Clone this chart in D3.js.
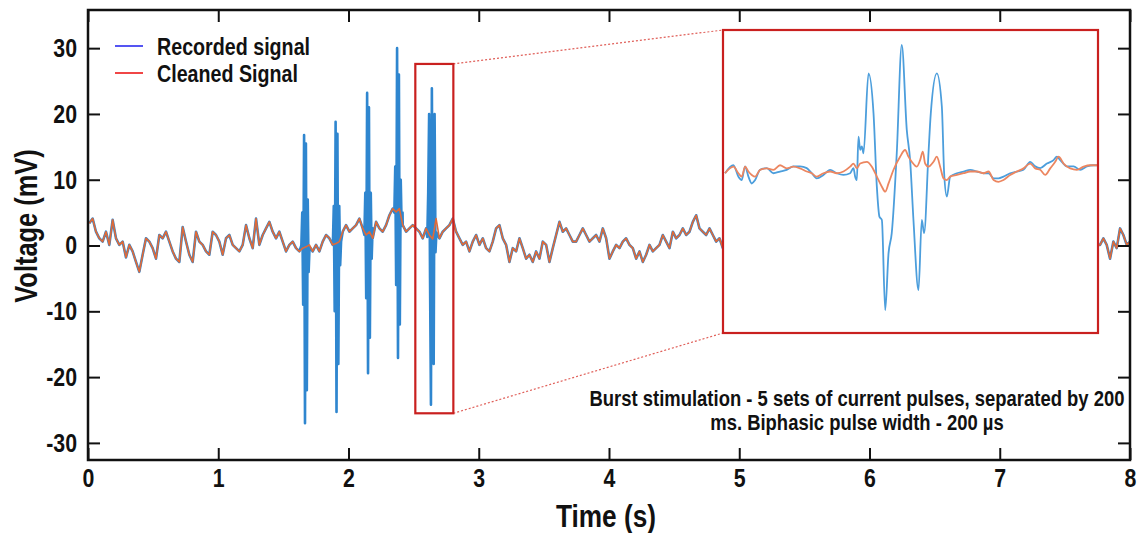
<!DOCTYPE html>
<html>
<head>
<meta charset="utf-8">
<script src="https://cdn.jsdelivr.net/npm/d3@7"></script>
<style>
  html, body { margin: 0; padding: 0; background: #fff; }
  svg text {
    font-family: "Liberation Sans", Arial, sans-serif;
    font-weight: bold;
    fill: #111;
  }
</style>
</head>
<body>
<svg id="chart" width="1138" height="533"></svg>
<script>
// --- data ---
const timeTicks = [0, 1, 2, 3, 4, 5, 6, 7, 8];
const voltTicks = [-30, -20, -10, 0, 10, 20, 30];

// cleaned signal, sampled every 25.6 ms (visible part left of the inset)
const sampleStart = 0.01;
const sampleStep = 0.0256;
const cleaned = [
  3.4, 4.1, 2.1, 1.1, 0.6, 2.1, 0.1, 3.9, 1.1, 0.1,
  0.6, -1.8, 0.1, -0.9, -2.5, -4.0, -1.4, 1.1, 0.6, -0.4,
  -2.0, 1.6, 1.1, 2.1, 0.6, -0.9, -2.0, -2.5, 2.8, 0.6,
  -1.4, -2.5, 2.1, 0.6, 0.1, -0.9, -1.4, 2.1, 1.6, 0.6,
  -1.4, 1.1, 1.6, 0.1, -0.4, -0.9, 0.1, 3.1, 1.1, -0.4,
  4.1,
  0.1, 1.6, 2.6, 3.6, 2.1, 1.1, 2.1, 0.6, -0.9, 0.1,
  0.6, -0.4, -0.9, -0.4, -0.2, 0.1, -0.9, 0.1, -0.9, 0.6,
  1.6, 1.1, 0.1, 0.3, 0.6, 2.1, 3.1, 2.1, 2.6, 3.1,
  4.1, 2.6, 1.6, 2.1, 1.1, 3.6, 2.6, 2.1, 3.1, 4.6,
  5.6, 5.1, 5.6, 3.1, 2.1, 2.6, 3.1, 2.6,
  2.1, 1.1, 2.6, 1.6, 1.0, 4.1, 1.1, 2.1, 2.6, 3.1,
  4.1, 2.1, 1.1, 0.1, 0.6, -0.9, 0.6, 1.6, 0.1, 1.1,
  -0.4, -0.9, 0.6, 2.6, 3.1, 1.1, 0.1, -2.5, -0.4, -0.9,
  1.1, -0.4, -2.0, -1.4, -2.5, -0.9, -2.0, 0.6, 0.1, -2.5,
  -0.4, 1.6, 3.6, 2.1, 2.6, 1.6, 0.6,
  0.6, 1.6, 2.6, 1.6, 0.6, 1.1, 1.6, 0.6, 2.6, 1.1,
  -2.0, -0.9, 0.1, -0.4, 0.6, 1.1, 0.1, -0.4, -2.0, -0.9,
  -2.5, -1.4, 0.1, -0.9, -0.4, 0.1, 1.6, 0.6, -0.4, 2.1,
  1.1, 1.6, 2.6, 1.6, 2.1, 3.6, 4.6, 2.6, 2.1, 1.6,
  2.6, 1.6, 0.6, 1.1, -0.4
];
// visible piece right of the inset
const tailStart = 7.77;
const cleanedTail = [0.1, 1.1, 0.1, -2.0, 0.6, -0.4, 2.6, 1.6, 0.1, 0.6];

// stimulation artefacts in the recorded signal (5 bursts)
const burstTimes = [
  [1.638, 1.645, 1.652, 1.659, 1.666, 1.673, 1.680, 1.687, 1.694, 1.701],
  [1.880, 1.887, 1.894, 1.901, 1.908, 1.915, 1.922, 1.929, 1.936, 1.943],
  [2.122, 2.129, 2.136, 2.143, 2.150, 2.157, 2.164, 2.171, 2.178, 2.185],
  [2.352, 2.359, 2.366, 2.373, 2.380, 2.387, 2.394, 2.401, 2.408, 2.415],
  [2.605, 2.612, 2.619, 2.626, 2.633, 2.640, 2.647, 2.654, 2.661, 2.668, 2.675]
];
const burstValues = [
  [0.0, 5.0, -9.0, 16.8, -27.0, 15.5, -22.0, 7.0, -4.0, -0.2],
  [0.1, 6.0, -10.0, 18.8, -25.3, 17.0, -18.0, 6.0, -3.0, 0.6],
  [1.6, 8.0, -8.0, 23.2, -19.4, 21.0, -14.0, 8.0, -2.0, 2.6],
  [5.0, 12.0, -6.0, 30.0, -17.1, 26.0, -12.0, 10.0, 3.0, 5.0],
  [1.3, 8.0, 20.0, -5.0, -24.2, 23.9, 0.0, -18.0, 20.0, -1.0, 2.0]
];

// zoomed window (time in s, voltage in mV)
const zoomSpan = [2.513, 2.805];
const zoomRange = [-25.5, 27.6];

// inset traces: [ms from window start, mV]
const insetRecorded = [
  [1.6, 2.5], [8.1, 3.9], [12, 1.9], [14.6, 1.3], [17.2, 3.7], [19.8, 1.9], [22.4, 0.7],
  [25, 1.3], [28.9, 3.1], [34.1, 3.4], [39.2, 2.5], [44.4, 2.8], [49.6, 3.1], [54.8, 3.7],
  [60, 3.7], [65.2, 3.4], [69.1, 2.5], [73, 1.6], [78.2, 2.2], [83.4, 3.1], [88.6, 2.5],
  [93.8, 2.2], [99, 2.5], [101.6, 3.4], [102.9, 1.9], [104.2, 1.3], [105.5, 8.9], [106.8, 6.6],
  [108.1, 7.2], [109.4, 6.0], [113.3, 20.0], [117.2, 13.0], [119.8, 0.1], [121.8, -5.1],
  [123.7, -5.7], [126.3, -21.5], [128.9, -11.5], [131.4, -8.0], [135.3, 6.0], [139.2, 25.0],
  [143.1, 10.1], [145.7, 4.8], [148.3, -5.7], [152.2, -18.0], [154.8, -5.7], [156.6, -8.0],
  [160, 6.0], [161.8, 13.0], [166.5, 20.0], [170.4, 14.2], [172.2, 2.5], [174.3, -1.6],
  [176.9, 1.9], [182.1, 2.5], [187.3, 2.8], [192.5, 3.1], [197.7, 2.8], [202.9, 2.5],
  [206.8, 2.5], [210.7, 1.6], [214.5, 1.6], [218.4, 1.9], [223.6, 2.5], [228.8, 2.8],
  [234, 3.1], [239.2, 4.5], [243.1, 3.7], [247, 3.4], [252.2, 4.2], [257.4, 4.8], [260, 5.4],
  [262.6, 4.8], [267.8, 3.7], [273, 3.7], [278.2, 3.1], [283.4, 3.7], [288.6, 3.9], [291.2, 3.9]
];
const insetCleaned = [
  [1.6, 2.5], [8.1, 3.65], [12, 2.5], [14.6, 1.9], [17.2, 3.65], [19.8, 2.8], [22.4, 2.2],
  [25, 1.9], [28.9, 3.1], [34.1, 3.35], [39.2, 3.1], [44.4, 3.9], [49.6, 3.35], [54.8, 3.65],
  [60, 3.35], [65.2, 2.8], [69.1, 2.5], [73, 1.9], [78.2, 2.5], [83.4, 2.8], [88.6, 2.5],
  [93.8, 2.8], [99, 3.65], [101.6, 4.2], [104.2, 3.35], [106.8, 4.2], [112, 4.5], [115.9, 3.65],
  [119.8, 1.9], [123.7, 0.14], [126.3, -0.74], [128.9, 0.72], [132.7, 3.06], [137.9, 5.4],
  [141.8, 6.57], [144.4, 5.4], [147, 4.5], [150.9, 3.65], [153.5, 4.8], [155.6, 6.3],
  [157.4, 4.2], [160, 3.65], [163.9, 4.5], [166.5, 5.4], [169.1, 3.65], [171.7, 1.6],
  [174.3, 1.3], [176.9, 1.9], [182.1, 2.2], [187.3, 2.5], [192.5, 2.8], [197.7, 2.8],
  [202.9, 2.5], [206.8, 2.8], [210.7, 1.3], [214.5, 1.0], [218.4, 1.3], [223.6, 2.2],
  [228.8, 2.8], [234, 3.35], [239.2, 4.2], [243.1, 3.35], [247, 3.1], [250.9, 2.2],
  [254.8, 3.35], [258.7, 4.5], [261.3, 5.4], [265.2, 4.2], [270.4, 3.35], [275.6, 3.1],
  [280.8, 3.65], [286, 3.9], [291.2, 3.9]
];

const legendItems = ['Recorded signal', 'Cleaned Signal'];
const noteLines = [
  'Burst stimulation - 5 sets of current pulses, separated by 200',
  'ms. Biphasic pulse width - 200 µs'
];

// --- drawing ---
const svg = d3.select('#chart');
const plot = { left: 88, right: 1130, top: 10, bottom: 460 };
const inset = { left: 723, right: 1098, top: 30, bottom: 333 };

const blue = '#2f86cf';
const orange = '#e06a38';
const boxRed = '#c9201f';
const squeeze = 0.82; // the figure uses a narrow bold face

// squeeze text horizontally around its own anchor
function narrow(sel) {
  sel.each(function () {
    const t = d3.select(this);
    const x0 = +t.attr('x') || 0;
    t.attr('x', x0 / squeeze).attr('transform', `scale(${squeeze},1)`);
  });
}

const x = d3.scaleLinear().domain([0, 8]).range([plot.left, plot.right]);
const y = d3.scaleLinear().domain([-32.6, 35.8]).range([plot.bottom, plot.top]);

const cleanedPts = cleaned.map((v, i) => [sampleStart + i * sampleStep, v])
  .concat(cleanedTail.map((v, i) => [tailStart + i * sampleStep, v]));

const windows = burstTimes.map(ts => [ts[0], ts[ts.length - 1]]);
const burstPts = burstTimes.flatMap((ts, k) => ts.map((t, j) => [t, burstValues[k][j]]));
const recordedPts = cleanedPts
  .filter(([t]) => !windows.some(([a, b]) => t >= a && t <= b))
  .concat(burstPts)
  .sort((a, b) => a[0] - b[0]);

const line = d3.line().x(d => x(d[0])).y(d => y(d[1]));

svg.append('path')
  .datum(recordedPts)
  .attr('d', line)
  .attr('fill', 'none')
  .attr('stroke', blue)
  .attr('stroke-width', 2.6)
  .attr('stroke-linejoin', 'round');

svg.append('path')
  .datum(cleanedPts)
  .attr('d', line)
  .attr('fill', 'none')
  .attr('stroke', orange)
  .attr('stroke-width', 1.6)
  .attr('stroke-linejoin', 'round');

// axes: ticks inward on all four sides
function styleAxis(g, size) {
  g.select('.domain').remove();
  g.attr('font-family', null).attr('font-size', null);
  g.selectAll('.tick line').attr('stroke', '#111').attr('stroke-width', 2);
  g.selectAll('.tick text').attr('font-size', size).attr('fill', '#111').call(narrow);
}

svg.append('g')
  .attr('transform', `translate(${plot.left},0)`)
  .call(d3.axisLeft(y).tickValues(voltTicks).tickSize(-12).tickPadding(11).tickFormat(d => String(d)))
  .call(g => styleAxis(g, 26));

svg.append('g')
  .attr('transform', `translate(${plot.right},0)`)
  .call(d3.axisRight(y).tickValues(voltTicks).tickSize(-12).tickFormat(''))
  .call(g => styleAxis(g, 26));

svg.append('g')
  .attr('transform', `translate(0,${plot.bottom})`)
  .call(d3.axisBottom(x).tickValues(timeTicks).tickSize(-12).tickPadding(9))
  .call(g => styleAxis(g, 26));

svg.append('g')
  .attr('transform', `translate(0,${plot.top})`)
  .call(d3.axisTop(x).tickValues(timeTicks).tickSize(-12).tickFormat(''))
  .call(g => styleAxis(g, 26));

svg.append('rect')
  .attr('x', plot.left).attr('y', plot.top)
  .attr('width', plot.right - plot.left).attr('height', plot.bottom - plot.top)
  .attr('fill', 'none').attr('stroke', '#111').attr('stroke-width', 2.5);

// axis titles
svg.append('g')
  .attr('transform', 'translate(606,527)')
  .append('text')
  .attr('text-anchor', 'middle')
  .attr('font-size', 32)
  .text('Time (s)')
  .call(narrow);

svg.append('g')
  .attr('transform', 'translate(37,226) rotate(-90)')
  .append('text')
  .attr('text-anchor', 'middle')
  .attr('font-size', 31)
  .text('Voltage (mV)')
  .call(narrow);

// zoom window in the main plot + connectors
const zx0 = x(zoomSpan[0]), zx1 = x(zoomSpan[1]);
const zy0 = y(zoomRange[1]), zy1 = y(zoomRange[0]);

svg.append('line')
  .attr('x1', zx1).attr('y1', zy0).attr('x2', inset.left).attr('y2', inset.top)
  .attr('stroke', '#e0605a').attr('stroke-width', 1.2).attr('stroke-dasharray', '2,2');
svg.append('line')
  .attr('x1', zx1).attr('y1', zy1).attr('x2', inset.left).attr('y2', inset.bottom)
  .attr('stroke', '#e0605a').attr('stroke-width', 1.2).attr('stroke-dasharray', '2,2');

svg.append('rect')
  .attr('x', zx0).attr('y', zy0)
  .attr('width', zx1 - zx0).attr('height', zy1 - zy0)
  .attr('fill', 'none').attr('stroke', boxRed).attr('stroke-width', 2.2);

// inset
svg.append('rect')
  .attr('x', inset.left).attr('y', inset.top)
  .attr('width', inset.right - inset.left).attr('height', inset.bottom - inset.top)
  .attr('fill', '#fff');

svg.append('clipPath').attr('id', 'inset-clip')
  .append('rect')
  .attr('x', inset.left).attr('y', inset.top)
  .attr('width', inset.right - inset.left).attr('height', inset.bottom - inset.top);

const ix = d3.scaleLinear()
  .domain([0, (zoomSpan[1] - zoomSpan[0]) * 1000])
  .range([inset.left, inset.right]);
const iy = d3.scaleLinear().domain(zoomRange).range([inset.bottom, inset.top]);
const insetLine = d3.line().x(d => ix(d[0])).y(d => iy(d[1])).curve(d3.curveMonotoneX);

const ig = svg.append('g').attr('clip-path', 'url(#inset-clip)');
ig.append('path')
  .datum(insetRecorded)
  .attr('d', insetLine)
  .attr('fill', 'none')
  .attr('stroke', '#4c9edc')
  .attr('stroke-width', 1.8)
  .attr('stroke-linejoin', 'round');
ig.append('path')
  .datum(insetCleaned)
  .attr('d', insetLine)
  .attr('fill', 'none')
  .attr('stroke', '#ec8660')
  .attr('stroke-width', 1.8)
  .attr('stroke-linejoin', 'round');

svg.append('rect')
  .attr('x', inset.left).attr('y', inset.top)
  .attr('width', inset.right - inset.left).attr('height', inset.bottom - inset.top)
  .attr('fill', 'none').attr('stroke', boxRed).attr('stroke-width', 2.2);

// legend
const legend = svg.append('g').attr('transform', 'translate(115,46)');
const legendColors = ['#5555f2', '#f04646'];
legend.selectAll('g')
  .data(legendItems)
  .join('g')
    .attr('transform', (d, i) => `translate(0,${i * 27})`)
    .each(function (d, i) {
      const g = d3.select(this);
      g.append('line')
        .attr('x1', 0).attr('x2', 28).attr('y1', 0).attr('y2', 0)
        .attr('stroke', legendColors[i]).attr('stroke-width', 2);
      g.append('text')
        .attr('x', 42).attr('y', 8.5)
        .attr('font-size', 24)
        .text(d)
        .call(narrow);
    });

// annotation
svg.append('g')
  .selectAll('text')
  .data(noteLines)
  .join('text')
    .attr('x', 857)
    .attr('y', (d, i) => 406 + i * 24)
    .attr('text-anchor', 'middle')
    .attr('font-size', 22.5)
    .text(d => d)
    .call(narrow);
</script>
</body>
</html>
